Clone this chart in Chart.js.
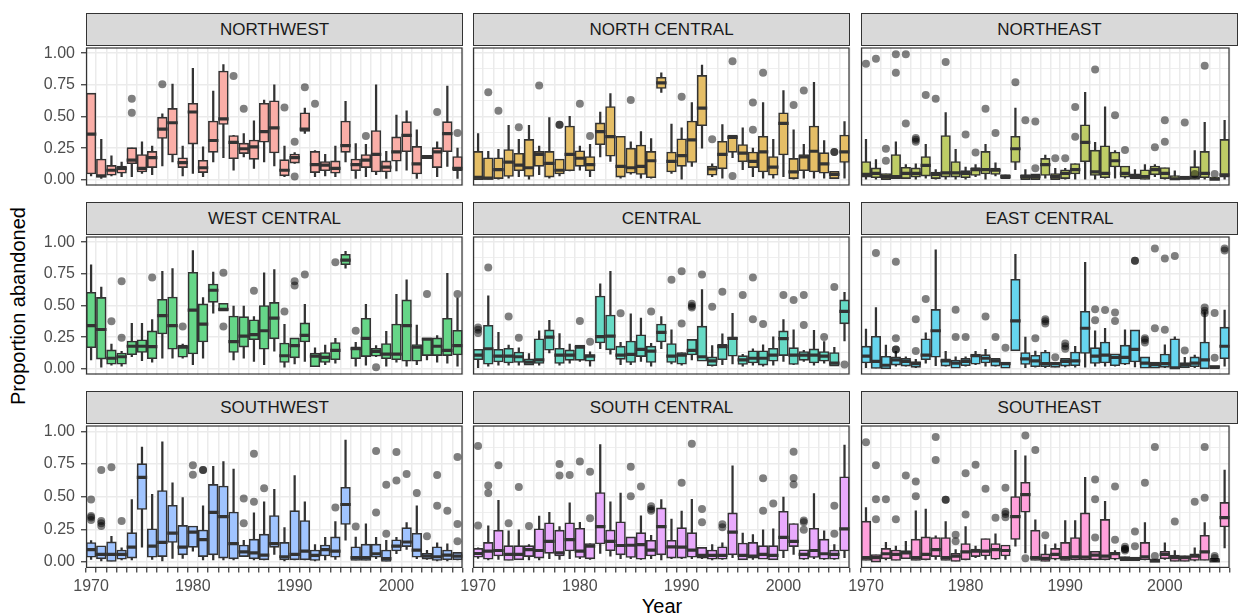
<!DOCTYPE html>
<html>
<head>
<meta charset="utf-8">
<title>Proportion abandoned by region</title>
<script src="https://cdn.jsdelivr.net/npm/chart.js@4.4.1/dist/chart.umd.min.js"></script>
<style>
  html, body { margin: 0; padding: 0; background: #fff; }
  body { position: relative; width: 1238px; height: 616px; overflow: hidden;
         font-family: "Liberation Sans", Arial, Helvetica, sans-serif; }
  canvas { position: absolute; }
  .strip { position: absolute; box-sizing: border-box; height: 33px; background: #D9D9D9;
           border: 1px solid #333; color: #1A1A1A; font-size: 17px; line-height: 31px; text-align: center; }
  .ytitle { position: absolute; left: 18px; top: 306px; font-size: 20px; line-height: 20px; color: #000;
            white-space: nowrap; transform: translate(-50%, -50%) rotate(-90deg); }
  .xtitle { position: absolute; left: 662px; top: 596px; font-size: 20px; line-height: 20px; color: #000;
            transform: translateX(-50%); }
</style>
</head>
<body>
<div class="ytitle">Proportion abandoned</div>
<div class="xtitle">Year</div>
<script>
const years = [1970, 1971, 1972, 1973, 1974, 1975, 1976, 1977, 1978, 1979,
               1980, 1981, 1982, 1983, 1984, 1985, 1986, 1987, 1988, 1989,
               1990, 1991, 1992, 1993, 1994, 1995, 1996, 1997, 1998, 1999,
               2000, 2001, 2002, 2003, 2004, 2005, 2006];
const regions = ["NORTHWEST", "NORTH CENTRAL", "NORTHEAST",
                 "WEST CENTRAL", "CENTRAL", "EAST CENTRAL",
                 "SOUTHWEST", "SOUTH CENTRAL", "SOUTHEAST"];
// hue palette at 60% opacity over white
const boxFills = ["#FAAEA7", "#E5BE66", "#BECC66",
                  "#66D688", "#66DAC5", "#66D5EE",
                  "#A0C4FF", "#E9AAFD", "#FFA0DB"];
const yBreaks = [0, 0.25, 0.5, 0.75, 1];
const yTickLabels = ["0.00", "0.25", "0.50", "0.75", "1.00"];
const yMinorBreaks = [0.125, 0.375, 0.625, 0.875];
const xBreaks = [1970, 1980, 1990, 2000];
const xTickLabels = ["1970", "1980", "1990", "2000"];

// each row: [lower whisker, Q1, median, Q3, upper whisker], one row per year
const northwest = [
  [0.03,0.05,0.36,0.68,0.68], [0.01,0.025,0.03,0.16,0.32], [0.03,0.04,0.075,0.11,0.19], [0.025,0.055,0.09,0.105,0.14],
  [0.025,0.13,0.155,0.25,0.25], [0.05,0.065,0.09,0.195,0.30], [0.04,0.10,0.175,0.22,0.265], [0.11,0.33,0.40,0.49,0.52],
  [0.14,0.20,0.45,0.56,0.755], [0.03,0.10,0.135,0.17,0.265], [0.05,0.285,0.535,0.60,0.88], [0.025,0.06,0.095,0.15,0.26],
  [0.14,0.22,0.31,0.46,0.70], [0.175,0.44,0.48,0.855,0.91], [0.075,0.17,0.295,0.345,0.35], [0.18,0.21,0.245,0.285,0.365],
  [0.09,0.165,0.26,0.31,0.465], [0.14,0.30,0.38,0.60,0.63], [0.11,0.215,0.41,0.62,0.75], [0.025,0.035,0.075,0.155,0.265],
  [0.13,0.135,0.175,0.20,0.215], [0.365,0.385,0.40,0.525,0.565], [0.025,0.06,0.12,0.22,0.23], [0.03,0.075,0.115,0.14,0.20],
  [0.025,0.055,0.09,0.145,0.265], [0.14,0.22,0.27,0.46,0.62], [0.01,0.075,0.12,0.16,0.285], [0.025,0.10,0.155,0.195,0.28],
  [0.04,0.065,0.20,0.385,0.75], [0.01,0.065,0.10,0.145,0.225], [0.07,0.15,0.22,0.335,0.51], [0.075,0.225,0.35,0.455,0.545],
  [0.01,0.05,0.125,0.26,0.395], [0.17,0.17,0.176,0.19,0.19], [0.025,0.10,0.22,0.25,0.30], [0.105,0.225,0.365,0.455,0.74],
  [0.01,0.075,0.09,0.18,0.25]
];
const northwestOut = [[1974,0.64],[1974,0.53],[1977,0.755],[1984,0.82],[1985,0.56],[1989,0.57],[1990,0.30],[1990,0.025],
  [1991,0.73],[1992,0.60],[1997,0.345],[2004,0.535],[2006,0.37]];

const northCentral = [
  [0.005,0.005,0.02,0.22,0.365], [0,0,0.013,0.17,0.225], [0.005,0.013,0.08,0.17,0.24], [0.013,0.03,0.14,0.235,0.43],
  [0.025,0.075,0.115,0.205,0.32], [0.005,0.03,0.095,0.315,0.43], [0.04,0.11,0.20,0.22,0.265], [0.013,0.025,0.13,0.22,0.49],
  [0.03,0.05,0.075,0.16,0.16], [0.07,0.075,0.20,0.42,0.50], [0.075,0.11,0.17,0.225,0.265], [0.025,0.075,0.12,0.18,0.28],
  [0.18,0.28,0.38,0.445,0.535], [0.145,0.19,0.34,0.575,0.68], [0.013,0.025,0.105,0.34,0.34], [0.045,0.055,0.095,0.245,0.30],
  [0.013,0.045,0.105,0.27,0.38], [0.013,0.02,0.15,0.22,0.325], [0.69,0.725,0.765,0.805,0.845], [0.05,0.065,0.145,0.215,0.44],
  [0.005,0.11,0.19,0.32,0.41], [0.105,0.14,0.315,0.46,0.61], [0.25,0.43,0.565,0.82,0.905], [0.025,0.04,0.085,0.105,0.125],
  [0.013,0.09,0.20,0.30,0.435], [0.175,0.22,0.335,0.35,0.35], [0.08,0.145,0.21,0.275,0.41], [0.025,0.10,0.145,0.215,0.25],
  [0.013,0.065,0.22,0.34,0.61], [0.013,0.04,0.10,0.18,0.32], [0.025,0.20,0.445,0.525,0.705], [0.005,0.013,0.063,0.165,0.395],
  [0.013,0.075,0.18,0.195,0.28], [0.013,0.065,0.225,0.42,0.77], [0.013,0.055,0.125,0.21,0.31], [0.013,0.013,0.043,0.063,0.063],
  [0.013,0.14,0.22,0.35,0.46]
];
const northCentralOut = [[1971,0.69],[1972,0.545],[1974,0.415],[1976,0.745],[1978,0.435],[1978,0.435],[1980,0.60],[1981,0.345],
  [1985,0.63],[1990,0.655],[1993,0.32],[1995,0.935],[1995,0.03],[1997,0.61],[1997,0.395],[1998,0.845],[2001,0.59],[2002,0.705],
  [2005,0.22],[2005,0.22]];

const northeast = [
  [0.005,0.025,0.043,0.14,0.32], [0.005,0.02,0.05,0.09,0.16], [0.005,0.005,0.025,0.045,0.045], [0.013,0.013,0.025,0.195,0.30],
  [0.013,0.013,0.05,0.095,0.12], [0.005,0.025,0.05,0.09,0.125], [0.013,0.033,0.113,0.18,0.28], [0.005,0.013,0.043,0.058,0.08],
  [0.005,0.025,0.055,0.345,0.53], [0.005,0.025,0.055,0.14,0.24], [0.005,0.02,0.05,0.068,0.10], [0.025,0.038,0.08,0.093,0.12],
  [0.005,0.05,0.08,0.22,0.28], [0.03,0.045,0.075,0.088,0.133], [0.013,0.013,0.025,0.038,0.038], [0.08,0.14,0.245,0.34,0.565],
  [0.005,0.005,0.025,0.038,0.08], [0.005,0.005,0.025,0.043,0.043], [0.013,0.038,0.12,0.165,0.195], [0.005,0.005,0.025,0.045,0.09],
  [0.005,0.013,0.05,0.075,0.09], [0.005,0.05,0.08,0.125,0.125], [0.005,0.145,0.295,0.43,0.69], [0.005,0.038,0.063,0.23,0.295],
  [0.013,0.02,0.05,0.265,0.575], [0.013,0.105,0.15,0.215,0.23], [0.013,0.025,0.05,0.105,0.105], [0.013,0.013,0.025,0.043,0.08],
  [0,0,0.025,0.075,0.12], [0.025,0.043,0.08,0.105,0.12], [0.005,0.013,0.05,0.093,0.093], [0,0,0.008,0.03,0.07],
  [0,0,0.013,0.025,0.025], [0,0,0.02,0.10,0.23], [0.005,0.02,0.05,0.22,0.453], [0,0,0.005,0.018,0.018],
  [0.005,0.025,0.038,0.315,0.47]
];
const northeastOut = [[1970,0.915],[1971,0.955],[1972,0.245],[1972,0.15],[1973,0.99],[1973,0.845],[1974,0.99],[1974,0.445],
  [1975,0.33],[1975,0.315],[1975,0.30],[1976,0.67],[1977,0.64],[1978,0.93],[1980,0.358],[1981,0.215],[1982,0.56],[1983,0.37],
  [1985,0.77],[1986,0.47],[1987,0.46],[1987,0.09],[1989,0.17],[1990,0.17],[1991,0.575],[1991,0.34],[1993,0.87],[1995,0.51],
  [1996,0.235],[1999,0.257],[2000,0.47],[2000,0.30],[2002,0.453],[2003,0.045],[2004,0.90],[2005,0.045]];

const westCentral = [
  [0.07,0.17,0.34,0.60,0.82], [0.013,0.08,0.31,0.56,0.645], [0.028,0.04,0.083,0.145,0.195], [0.02,0.04,0.095,0.12,0.137],
  [0.095,0.115,0.178,0.215,0.358], [0.063,0.133,0.178,0.225,0.358], [0.053,0.083,0.175,0.295,0.388], [0.083,0.278,0.42,0.545,0.77],
  [0.083,0.158,0.34,0.563,0.79], [0.083,0.095,0.17,0.183,0.195], [0.033,0.12,0.463,0.758,0.933], [0.083,0.215,0.353,0.508,0.563],
  [0.438,0.528,0.62,0.665,0.763], [0.458,0.458,0.47,0.513,0.513], [0.07,0.133,0.215,0.413,0.495], [0.083,0.175,0.258,0.408,0.495],
  [0.058,0.233,0.27,0.383,0.413], [0.033,0.158,0.30,0.495,0.758], [0.138,0.24,0.40,0.52,0.783], [0.013,0.053,0.103,0.20,0.35],
  [0.038,0.09,0.183,0.24,0.24], [0.058,0.215,0.263,0.358,0.508], [0.02,0.02,0.10,0.12,0.165], [0.033,0.053,0.09,0.125,0.188],
  [0.045,0.075,0.145,0.203,0.24], [0.795,0.825,0.858,0.90,0.928], [0.02,0.083,0.158,0.17,0.208], [0.028,0.10,0.24,0.395,0.508],
  [0.095,0.103,0.138,0.158,0.183], [0.02,0.083,0.115,0.195,0.295], [0.053,0.075,0.115,0.35,0.588], [0.02,0.063,0.34,0.54,0.703],
  [0.033,0.063,0.17,0.188,0.345], [0.07,0.108,0.233,0.24,0.24], [0.053,0.108,0.178,0.24,0.263], [0.045,0.108,0.145,0.395,0.753],
  [0.02,0.113,0.183,0.30,0.558]
];
const westCentralOut = [[1972,0.375],[1973,0.69],[1973,0.245],[1976,0.72],[1979,0.333],[1983,0.758],[1983,0.333],[1986,0.615],
  [1989,0.453],[1990,0.69],[1990,0.658],[1991,0.745],[1994,0.84],[1996,0.30],[1998,0.013],[2003,0.59],[2006,0.59]];

const central = [
  [0.008,0.075,0.108,0.15,0.15], [0.02,0.04,0.158,0.34,0.575], [0.028,0.058,0.10,0.15,0.288], [0.028,0.05,0.10,0.158,0.188],
  [0.028,0.053,0.095,0.128,0.165], [0.033,0.033,0.053,0.075,0.12], [0.028,0.045,0.07,0.233,0.30], [0.125,0.15,0.25,0.303,0.383],
  [0.028,0.045,0.108,0.158,0.278], [0.045,0.07,0.108,0.145,0.195], [0.058,0.07,0.17,0.183,0.183], [0.02,0.063,0.10,0.108,0.133],
  [0.158,0.208,0.253,0.57,0.67], [0.115,0.153,0.258,0.42,0.77], [0.033,0.078,0.108,0.175,0.208], [0.033,0.053,0.113,0.215,0.433],
  [0.058,0.10,0.153,0.265,0.40], [0.02,0.053,0.14,0.175,0.20], [0.158,0.215,0.288,0.35,0.413], [0.038,0.053,0.10,0.195,0.308],
  [0.028,0.04,0.108,0.125,0.125], [0.07,0.113,0.145,0.228,0.228], [0.063,0.063,0.095,0.333,0.625], [0.02,0.028,0.063,0.09,0.183],
  [0.033,0.075,0.175,0.19,0.275], [0.038,0.103,0.24,0.245,0.438], [0.02,0.038,0.07,0.10,0.115], [0.028,0.05,0.083,0.138,0.158],
  [0.02,0.033,0.083,0.138,0.19], [0.028,0.063,0.108,0.158,0.253], [0.058,0.108,0.238,0.295,0.388], [0.033,0.038,0.108,0.163,0.308],
  [0.058,0.07,0.108,0.133,0.145], [0.028,0.05,0.108,0.153,0.303], [0.045,0.063,0.10,0.133,0.215], [0.025,0.025,0.045,0.125,0.17],
  [0.22,0.358,0.453,0.54,0.603]
];
const centralOut = [[1970,0.325],[1970,0.308],[1970,0.283],[1971,0.80],[1973,0.413],[1974,0.245],[1980,0.378],[1981,0.213],
  [1984,0.438],[1987,0.453],[1989,0.703],[1990,0.77],[1990,0.358],[1991,0.513],[1991,0.495],[1991,0.483],[1992,0.745],[1993,0.49],
  [1994,0.608],[1996,0.583],[1997,0.72],[1997,0.39],[1998,0.353],[2000,0.583],[2001,0.543],[2002,0.583],[2002,0.345],[2004,0.25],
  [2005,0.645],[2006,0.033]];

const eastCentral = [
  [0.008,0.05,0.10,0.175,0.313], [0,0,0.058,0.253,0.483], [0,0.003,0.028,0.095,0.188], [0.02,0.033,0.07,0.09,0.138],
  [0.02,0.025,0.058,0.078,0.095], [0.008,0.015,0.04,0.053,0.075], [0.045,0.075,0.108,0.233,0.283], [0.025,0.095,0.30,0.465,0.938],
  [0.02,0.025,0.063,0.075,0.138], [0.008,0.008,0.045,0.065,0.095], [0.02,0.028,0.058,0.078,0.095], [0.033,0.04,0.103,0.113,0.138],
  [0.02,0.05,0.083,0.108,0.153], [0.02,0.025,0.063,0.078,0.078], [0.008,0.008,0.04,0.05,0.05], [0.145,0.145,0.378,0.703,0.903],
  [0.008,0.038,0.078,0.125,0.25], [0.013,0.02,0.063,0.103,0.14], [0.008,0.02,0.04,0.128,0.145], [0.015,0.015,0.04,0.05,0.05],
  [0.015,0.025,0.058,0.078,0.078], [0.013,0.028,0.063,0.128,0.178], [0.013,0.125,0.32,0.45,0.84], [0.02,0.045,0.10,0.163,0.30],
  [0.02,0.05,0.108,0.208,0.32], [0.02,0.028,0.09,0.115,0.115], [0.033,0.04,0.09,0.183,0.308], [0.015,0.058,0.153,0.303,0.303],
  [0.008,0.008,0.045,0.09,0.09], [0.008,0.008,0.033,0.05,0.05], [0.008,0.015,0.04,0.113,0.19], [0,0,0.008,0.233,0.253],
  [0.013,0.013,0.033,0.045,0.09], [0.008,0.02,0.045,0.09,0.108], [0,0.003,0.07,0.208,0.45], [0.003,0.003,0.015,0.02,0.02],
  [0.02,0.083,0.178,0.325,0.463]
];
const eastCentralOut = [[1971,0.913],[1973,0.845],[1973,0.24],[1973,0.153],[1973,0.153],[1975,0.39],[1975,0.14],[1976,0.55],
  [1979,0.465],[1979,0.25],[1980,0.25],[1982,0.413],[1983,0.25],[1984,0.165],[1987,0.24],[1988,0.39],[1988,0.375],[1988,0.358],
  [1989,0.09],[1990,0.20],[1990,0.178],[1990,0.158],[1993,0.47],[1993,0.383],[1994,0.463],[1995,0.445],[1995,0.378],[1997,0.853],
  [1997,0.853],[1998,0.24],[1998,0.228],[1998,0.208],[1999,0.95],[1999,0.32],[2000,0.87],[2000,0.308],[2001,0.89],[2002,0.145],
  [2004,0.483],[2004,0.458],[2004,0.438],[2005,0.44],[2005,0.088],[2006,0.95],[2006,0.933]];

const southwest = [
  [0.02,0.04,0.095,0.145,0.163], [0.008,0.028,0.058,0.12,0.12], [0.008,0.008,0.058,0.15,0.196], [0.015,0.025,0.058,0.088,0.108],
  [0.015,0.033,0.113,0.221,0.477], [0.113,0.405,0.648,0.749,0.879], [0.02,0.04,0.121,0.251,0.518], [0.008,0.045,0.15,0.543,0.92],
  [0.028,0.153,0.221,0.43,0.606], [0.028,0.058,0.113,0.276,0.492], [0.083,0.116,0.229,0.271,0.271], [0.015,0.045,0.171,0.241,0.43],
  [0.015,0.058,0.379,0.59,0.731], [0.015,0.033,0.347,0.578,0.769], [0.015,0.028,0.141,0.379,0.711], [0.045,0.045,0.078,0.126,0.166],
  [0.015,0.028,0.07,0.171,0.377], [0.015,0.02,0.053,0.209,0.46], [0.058,0.116,0.141,0.352,0.555], [0.008,0.02,0.04,0.146,0.264],
  [0.015,0.02,0.058,0.389,0.661], [0.015,0.02,0.083,0.314,0.46], [0.008,0.015,0.05,0.088,0.133], [0.015,0.05,0.095,0.126,0.188],
  [0.02,0.04,0.083,0.188,0.309], [0.166,0.291,0.44,0.568,0.932], [0.015,0.015,0.033,0.113,0.191], [0.015,0.015,0.033,0.133,0.291],
  [0.025,0.04,0.063,0.133,0.188], [0.008,0.008,0.025,0.088,0.166], [0.063,0.088,0.121,0.166,0.188], [0.096,0.121,0.153,0.259,0.302],
  [0.025,0.04,0.09,0.216,0.43], [0.02,0.025,0.045,0.063,0.09], [0.008,0.015,0.04,0.113,0.146], [0.008,0.02,0.053,0.088,0.138],
  [0.015,0.02,0.045,0.07,0.07]
];
const southwestOut = [[1970,0.478],[1970,0.352],[1970,0.34],[1970,0.322],[1971,0.703],[1971,0.314],[1971,0.296],[1971,0.276],
  [1972,0.724],[1973,0.314],[1980,0.741],[1980,0.668],[1981,0.703],[1981,0.703],[1985,0.485],[1985,0.296],[1986,0.829],[1986,0.46],
  [1987,0.565],[1994,0.417],[1996,0.271],[1998,0.849],[1998,0.379],[1999,0.59],[1999,0.216],[2000,0.842],[2000,0.623],[2001,0.673],
  [2002,0.528],[2003,0.196],[2004,0.666],[2004,0.43],[2005,0.392],[2006,0.804],[2006,0.291],[2006,0.158]];

const southCentral = [
  [0.028,0.04,0.065,0.10,0.108], [0.015,0.025,0.083,0.146,0.276], [0.02,0.05,0.088,0.239,0.472], [0.015,0.015,0.058,0.121,0.239],
  [0.02,0.02,0.058,0.121,0.246], [0.015,0.045,0.095,0.121,0.133], [0.015,0.033,0.088,0.251,0.352], [0.025,0.07,0.158,0.296,0.379],
  [0.02,0.05,0.07,0.239,0.271], [0.025,0.088,0.171,0.296,0.452], [0.025,0.038,0.083,0.254,0.304], [0.02,0.028,0.121,0.138,0.138],
  [0.065,0.141,0.271,0.528,0.899], [0.045,0.09,0.158,0.241,0.46], [0.025,0.058,0.126,0.304,0.528], [0.025,0.038,0.128,0.188,0.188],
  [0.02,0.025,0.133,0.221,0.354], [0.025,0.05,0.09,0.163,0.204], [0.015,0.058,0.271,0.41,0.477], [0.025,0.033,0.116,0.163,0.329],
  [0.025,0.033,0.113,0.259,0.389], [0.025,0.04,0.09,0.221,0.48], [0.025,0.033,0.05,0.108,0.108], [0.015,0.025,0.05,0.088,0.133],
  [0.02,0.025,0.05,0.113,0.146], [0.033,0.058,0.229,0.372,0.736], [0.02,0.02,0.05,0.141,0.221], [0.02,0.033,0.045,0.146,0.209],
  [0.025,0.025,0.058,0.121,0.246], [0.02,0.02,0.05,0.121,0.254], [0.033,0.088,0.188,0.384,0.497], [0.058,0.121,0.158,0.291,0.291],
  [0.02,0.025,0.058,0.09,0.09], [0.025,0.038,0.088,0.254,0.523], [0.02,0.025,0.063,0.171,0.239], [0.02,0.025,0.058,0.088,0.133],
  [0.033,0.088,0.254,0.648,0.894]
];
const southCentralOut = [[1970,0.887],[1970,0.279],[1971,0.585],[1971,0.528],[1972,0.741],[1973,0.296],[1974,0.573],[1975,0.276],
  [1978,0.749],[1978,0.661],[1979,0.666],[1980,0.769],[1981,0.691],[1981,0.334],[1985,0.729],[1985,0.503],[1986,0.578],[1987,0.427],
  [1987,0.405],[1987,0.392],[1990,0.606],[1991,0.905],[1992,0.405],[1992,0.304],[1994,0.289],[1994,0.266],[1998,0.641],[1998,0.392],
  [1999,0.447],[2001,0.844],[2001,0.643],[2001,0.593],[2002,0.317],[2002,0.304],[2002,0.246],[2005,0.43],[2005,0.216]];

const southeast = [
  [0.015,0.015,0.033,0.309,0.417], [0.003,0.003,0.033,0.053,0.053], [0.015,0.028,0.063,0.10,0.151], [0.015,0.015,0.058,0.088,0.121],
  [0.028,0.028,0.07,0.083,0.158], [0.015,0.015,0.033,0.171,0.392], [0.015,0.02,0.058,0.188,0.405], [0.02,0.045,0.095,0.183,0.201],
  [0.015,0.015,0.033,0.183,0.309], [0.008,0.008,0.045,0.063,0.095], [0.015,0.02,0.078,0.138,0.271], [0.033,0.045,0.083,0.095,0.121],
  [0.02,0.05,0.083,0.176,0.176], [0.02,0.025,0.095,0.138,0.216], [0.02,0.05,0.088,0.126,0.126], [0.121,0.176,0.347,0.497,0.854],
  [0.07,0.384,0.515,0.606,0.812], [0.015,0.015,0.033,0.239,0.322], [0.008,0.008,0.028,0.058,0.133], [0.015,0.025,0.058,0.10,0.138],
  [0.015,0.015,0.033,0.146,0.317], [0.015,0.02,0.04,0.183,0.317], [0.015,0.02,0.038,0.372,0.648], [0.015,0.02,0.053,0.078,0.078],
  [0.015,0.02,0.045,0.322,0.465], [0.015,0.025,0.063,0.07,0.088], [0.013,0.013,0.025,0.038,0.038], [0.013,0.013,0.025,0.033,0.033],
  [0.015,0.02,0.04,0.146,0.302], [0.003,0.003,0.008,0.02,0.02], [0.02,0.028,0.058,0.078,0.146], [0.008,0.008,0.033,0.05,0.088],
  [0.008,0.008,0.033,0.045,0.045], [0.008,0.015,0.045,0.058,0.108], [0.015,0.015,0.078,0.201,0.302], [0,0,0.008,0.025,0.025],
  [0.108,0.271,0.339,0.452,0.704]
];
const southeastOut = [[1970,0.917],[1971,0.741],[1971,0.48],[1971,0.327],[1972,0.48],[1973,0.327],[1974,0.661],[1975,0.616],
  [1975,0.503],[1977,0.957],[1977,0.781],[1978,0.477],[1978,0.477],[1979,0.209],[1979,0.158],[1980,0.678],[1980,0.364],[1981,0.744],
  [1982,0.56],[1983,0.339],[1984,0.568],[1984,0.384],[1984,0.367],[1984,0.342],[1986,0.967],[1986,0.028],[1987,0.857],[1988,0.204],
  [1993,0.631],[1993,0.48],[1993,0.188],[1995,0.578],[1995,0.171],[1996,0.116],[1996,0.10],[1996,0.10],[1996,0.088],[1997,0.234],
  [1997,0.121],[1998,0.606],[1999,0.879],[1999,0.045],[2001,0.309],[2003,0.46],[2004,0.879],[2004,0.492],[2005,0.045],[2005,0.03]];

const panelStats = [northwest, northCentral, northeast, westCentral, central, eastCentral, southwest, southCentral, southeast];
const panelOutliers = [northwestOut, northCentralOut, northeastOut, westCentralOut, centralOut, eastCentralOut,
                       southwestOut, southCentralOut, southeastOut];

// facet geometry (pixels)
const colLeft = [86, 473, 861];
const stripTop = [13, 202, 391];
const PANEL_W = 377, PANEL_H = 145, STRIP_H = 33;

Chart.defaults.font.family = '"Liberation Sans", Arial, Helvetica, sans-serif';

const panelBorder = {
  id: "panelBorder",
  afterDraw(chart) {
    const a = chart.chartArea, ctx = chart.ctx;
    ctx.save();
    ctx.strokeStyle = "#333333";
    ctx.lineWidth = 1.2;
    ctx.strokeRect(a.left + 0.6, a.top + 0.6, a.right - a.left - 1.2, a.bottom - a.top - 1.2);
    ctx.restore();
  }
};

function makePanel(idx) {
  const row = Math.floor(idx / 3), col = idx % 3;
  const stats = panelStats[idx];
  const showY = col === 0, showX = row === 2;
  const L = showY ? 86 : 16, R = col === 2 ? 0 : 8, T = 6, B = showX ? 30 : 4;
  const top = stripTop[row] + STRIP_H - 1;

  const strip = document.createElement("div");
  strip.className = "strip";
  strip.style.left = colLeft[col] + "px";
  strip.style.top = stripTop[row] + "px";
  strip.style.width = PANEL_W + "px";
  strip.textContent = regions[idx];
  document.body.appendChild(strip);

  const canvas = document.createElement("canvas");
  canvas.width = PANEL_W + L + R;
  canvas.height = PANEL_H + T + B;
  canvas.style.left = (colLeft[col] - L) + "px";
  canvas.style.top = (top - T) + "px";
  document.body.appendChild(canvas);

  const isMajorY = (v) => yBreaks.some((b) => Math.abs(b - v) < 1e-9);

  new Chart(canvas.getContext("2d"), {
    type: "bar",
    data: {
      datasets: [
        {
          label: "whisker",
          data: years.map((yr, i) => ({ x: yr, y: [stats[i][0], stats[i][4]] })),
          backgroundColor: "#333333",
          borderWidth: 0,
          barThickness: 1.6,
          order: 4
        },
        {
          label: "box",
          data: years.map((yr, i) => ({ x: yr, y: [stats[i][1], stats[i][3]] })),
          backgroundColor: boxFills[idx],
          borderColor: "#333333",
          borderWidth: 1.6,
          borderSkipped: false,
          inflateAmount: 0.8,
          barPercentage: 0.86,
          categoryPercentage: 1,
          order: 3
        },
        {
          type: "scatter",
          label: "median",
          data: years.map((yr, i) => ({ x: yr, y: stats[i][2] })),
          pointStyle: "line",
          pointRadius: 5.2,
          pointBorderWidth: 3.2,
          pointBorderColor: "#333333",
          order: 2
        },
        {
          type: "scatter",
          label: "outliers",
          data: panelOutliers[idx].map((p) => ({ x: p[0], y: p[1] })),
          pointRadius: 4,
          pointBackgroundColor: "rgba(0,0,0,0.5)",
          pointBorderWidth: 0,
          order: 1
        }
      ]
    },
    options: {
      responsive: false,
      animation: false,
      events: [],
      layout: { padding: { left: showY ? 0 : L, right: R, top: T, bottom: showX ? 0 : B } },
      datasets: { bar: { grouped: false } },
      plugins: { legend: { display: false }, tooltip: { enabled: false } },
      scales: {
        x: {
          type: "linear",
          min: 1969.5,
          max: 2006.5,
          offset: false,
          border: { display: false },
          afterBuildTicks: (s) => { s.ticks = years.map((v) => ({ value: v })); },
          afterFit: (s) => { s.height = showX ? B : 0; s.paddingLeft = 0; s.paddingRight = 0; },
          grid: {
            color: "#EBEBEB",
            lineWidth: 1.5,
            drawTicks: showX,
            tickLength: 4.5,
            tickColor: "#333333",
            tickWidth: 1.2
          },
          ticks: {
            display: showX,
            autoSkip: false,
            maxRotation: 0,
            minRotation: 0,
            padding: 4,
            color: "#4D4D4D",
            font: { size: 16 },
            callback: (v) => {
              const k = xBreaks.indexOf(v);
              return k >= 0 ? xTickLabels[k] : "";
            }
          }
        },
        y: {
          type: "linear",
          min: -0.046,
          max: 1.045,
          border: { display: false },
          afterBuildTicks: (s) => {
            s.ticks = yBreaks.concat(yMinorBreaks).sort((a, b) => a - b).map((v) => ({ value: v }));
          },
          afterFit: (s) => { s.width = showY ? L : 0; s.paddingTop = 0; s.paddingBottom = 0; },
          grid: {
            color: "#EBEBEB",
            lineWidth: (c) => (c.tick && isMajorY(c.tick.value) ? 1.5 : 0.8),
            drawTicks: showY,
            tickLength: 5,
            tickWidth: 1.2,
            tickColor: (c) => (c.tick && isMajorY(c.tick.value) ? "#333333" : "rgba(0,0,0,0)")
          },
          ticks: {
            display: showY,
            padding: 6,
            color: "#4D4D4D",
            font: { size: 16 },
            callback: (v) => {
              const k = yBreaks.findIndex((b) => Math.abs(b - v) < 1e-9);
              return k >= 0 ? yTickLabels[k] : "";
            }
          }
        }
      }
    },
    plugins: [panelBorder]
  });
}

for (let i = 0; i < regions.length; i++) {
  makePanel(i);
}
</script>
</body>
</html>
